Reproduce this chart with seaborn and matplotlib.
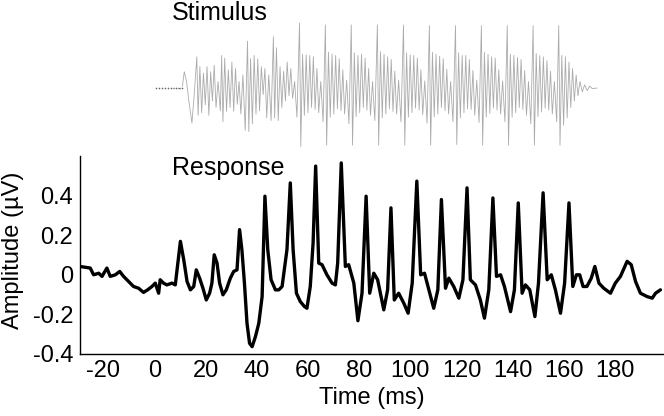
import matplotlib
matplotlib.use("Agg")
import matplotlib.pyplot as plt
import seaborn as sns

# Response (ms, uV)
resp_t = [-28.9, -25.0, -23.7, -21.7, -20.4, -18.5, -17.2, -15.2, -13.5, -12.0,
          -10.0, -8.1, -6.1, -4.2, -2.6, -0.9, 0.4, 1.7, 2.3, 3.6,
          4.9, 6.9, 8.2, 10.2, 11.5, 12.8, 14.1, 15.4, 16.4, 17.7,
          19.0, 20.3, 21.6, 22.5, 23.4, 24.5, 25.5, 26.8, 28.1, 29.7,
          31.0, 32.3, 33.3, 34.2, 35.2, 36.2, 37.2, 38.2, 39.5, 40.8,
          42.1, 43.2, 44.3, 45.6, 47.3, 48.6, 49.9, 51.8, 53.1, 54.2,
          55.5, 57.0, 58.6, 59.6, 60.9, 62.0, 63.0, 64.2, 65.5, 67.4,
          69.4, 70.7, 71.6, 73.0, 74.6, 75.9, 77.9, 79.5, 81.1, 82.7,
          84.1, 85.7, 87.2, 89.6, 91.1, 92.4, 93.7, 95.4, 97.4, 99.1,
          100.7, 102.5, 104.0, 105.5, 107.2, 109.1, 110.7, 112.1, 113.7, 115.0,
          116.9, 118.9, 120.5, 122.1, 123.4, 125.4, 127.3, 128.9, 130.6, 132.2,
          133.6, 135.2, 136.7, 139.1, 140.6, 142.1, 143.6, 144.9, 146.6, 148.6,
          150.0, 151.8, 153.4, 155.0, 156.6, 158.6, 160.2, 161.9, 163.4, 164.8,
          166.1, 167.4, 168.9, 170.6, 172.0, 173.6, 175.5, 178.1, 180.0, 182.0,
          184.6, 186.2, 187.9, 189.8, 192.4, 194.4, 195.7, 197.6]
resp_v = [0.042, 0.034, 0.0, 0.008, -0.008, 0.034, -0.008, 0.0, 0.017, -0.008,
          -0.034, -0.059, -0.068, -0.089, -0.076, -0.059, -0.042, -0.093, -0.025, -0.042,
          -0.051, -0.042, -0.051, 0.169, 0.076, -0.034, -0.076, -0.059, 0.025, -0.017,
          -0.068, -0.127, -0.093, -0.042, 0.101, 0.059, -0.042, -0.101, -0.076, -0.017,
          0.017, 0.025, 0.228, 0.127, -0.042, -0.245, -0.346, -0.363, -0.312, -0.245,
          -0.110, 0.397, 0.127, -0.025, -0.076, -0.076, -0.059, 0.127, 0.464, 0.127,
          -0.093, -0.135, -0.160, -0.169, -0.059, 0.160, 0.549, 0.059, 0.051, 0.0,
          -0.042, -0.051, 0.059, 0.565, 0.042, 0.051, -0.042, -0.232, -0.093, 0.397,
          -0.093, 0.008, -0.025, -0.177, -0.076, 0.338, -0.127, -0.093, -0.143, -0.194,
          -0.042, 0.473, 0.0, 0.008, -0.076, -0.169, -0.076, 0.380, -0.068, -0.017,
          -0.059, -0.118, -0.025, 0.439, -0.025, -0.051, -0.127, -0.219, -0.076, 0.388,
          -0.008, 0.0, -0.059, -0.186, -0.076, 0.363, -0.093, -0.051, -0.076, -0.211,
          -0.042, 0.414, -0.025, 0.0, -0.076, -0.194, -0.042, 0.363, -0.059, 0.0,
          0.0, -0.059, -0.059, -0.017, 0.042, -0.042, -0.068, -0.093, -0.042, -0.008,
          0.068, 0.051, -0.034, -0.093, -0.110, -0.118, -0.093, -0.076]

# Stimulus waveform (arbitrary units), read per pitch period
onset_t = [0.8, 2.0, 3.1, 4.3, 5.5, 6.6, 8.6, 10.9]
onset_v = [0, 0, 0, 0, 0, 0, 0, 0]
burst_t = [11.7, 12.6, 13.5, 14.7, 15.6]
burst_v = [0.25, 0.10, -0.20, -0.54, -0.10]
period_start = [16.6, 26.3, 36.4, 46.5, 56.7, 66.8, 76.9, 87.1, 97.3, 107.4,
                117.6, 127.7, 137.8, 147.9, 157.9]
period_offset = [0, 0.5, 1.2, 1.9, 2.6, 3.3, 4.0, 4.7, 5.4, 6.1, 6.8, 7.5, 8.3, 9.2]
period_v = [
    [0.48, -0.42, 0.33, -0.38, 0.23, -0.26, 0.33, -0.42, 0.25, -0.20, 0.35, -0.30, 0.10, -0.35],
    [0.50, -0.52, 0.46, -0.36, 0.28, -0.30, 0.40, -0.36, 0.30, -0.25, 0.10, -0.40, 0.20, -0.65],
    [0.72, -0.67, 0.45, -0.55, 0.50, -0.40, 0.45, -0.35, 0.33, -0.10, 0.30, -0.46, 0.20, -0.50],
    [0.79, -0.46, 0.62, -0.50, 0.33, -0.30, 0.26, -0.20, 0.40, -0.12, 0.30, -0.16, 0.10, -0.45],
    [1.00, -0.90, 0.52, -0.42, 0.51, -0.38, 0.50, -0.30, 0.48, -0.33, 0.30, -0.38, 0.10, -0.52],
    [0.97, -0.88, 0.55, -0.45, 0.52, -0.40, 0.50, -0.32, 0.45, -0.35, 0.28, -0.40, 0.12, -0.55],
    [0.97, -0.88, 0.54, -0.44, 0.50, -0.38, 0.52, -0.30, 0.46, -0.34, 0.30, -0.42, 0.10, -0.50],
    [0.97, -0.88, 0.56, -0.46, 0.52, -0.40, 0.48, -0.32, 0.44, -0.36, 0.26, -0.40, 0.12, -0.52],
    [0.97, -0.88, 0.54, -0.45, 0.51, -0.38, 0.50, -0.31, 0.46, -0.34, 0.28, -0.41, 0.11, -0.54],
    [0.96, -0.88, 0.55, -0.44, 0.52, -0.40, 0.49, -0.30, 0.45, -0.35, 0.29, -0.40, 0.10, -0.52],
    [0.96, -0.87, 0.54, -0.46, 0.50, -0.38, 0.50, -0.32, 0.44, -0.33, 0.27, -0.42, 0.12, -0.53],
    [0.96, -0.88, 0.55, -0.45, 0.52, -0.39, 0.48, -0.31, 0.46, -0.34, 0.28, -0.40, 0.11, -0.52],
    [0.96, -0.88, 0.52, -0.45, 0.50, -0.38, 0.47, -0.30, 0.44, -0.33, 0.27, -0.42, 0.10, -0.55],
    [0.96, -0.88, 0.53, -0.44, 0.50, -0.37, 0.48, -0.31, 0.42, -0.34, 0.26, -0.40, 0.10, -0.52],
    [0.96, -0.88, 0.50, -0.57, 0.48, -0.46, 0.40, -0.30, 0.30, -0.20, 0.20, -0.12, 0.10, -0.06],
]
tail_t = [168.0, 169.0, 170.0, 171.0, 172.9]
tail_v = [0.05, -0.04, 0.03, -0.01, 0.0]

stim_t = [onset_t[-1]] + burst_t
stim_v = [onset_v[-1]] + burst_v
for t0, vals in zip(period_start, period_v):
    for off, v in zip(period_offset, vals):
        stim_t.append(t0 + off)
        stim_v.append(v)
stim_t += tail_t
stim_v += tail_v

sns.set_theme(style="white")
plt.rcParams['font.family'] = ['Liberation Sans', 'DejaVu Sans']
plt.rcParams['text.color'] = 'black'

fig = plt.figure(figsize=(6.64, 4.16), dpi=100)
ax = fig.add_axes([80 / 664, 62 / 416, 584 / 664, 198 / 416])
ax_s = fig.add_axes([80 / 664, 256.5 / 416, 584 / 664, 143 / 416], sharex=ax)

# stimulus
sns.lineplot(x=stim_t, y=stim_v, ax=ax_s, color='#ababab', linewidth=0.6,
             sort=False, estimator=None)
sns.lineplot(x=onset_t, y=onset_v, ax=ax_s, color='#666666', linewidth=0.9,
             marker='.', markersize=4, sort=False, estimator=None)
ax_s.set_ylim(-1.1, 1.1)
ax_s.axis('off')

# response
sns.lineplot(x=resp_t, y=resp_v, ax=ax, color='black', linewidth=2.4,
             sort=False, estimator=None)
ax.set_xlim(-29, 199)
ax.set_ylim(-0.4, 0.6)
ax.set_xticks(range(-20, 181, 20))
ax.set_yticks([-0.4, -0.2, 0, 0.2, 0.4])
ax.set_yticklabels(['-0.4', '-0.2', '0', '0.2', '0.4'])
ax.set_xticklabels([str(v) for v in range(-20, 181, 20)])
for s in ['top', 'right']:
    ax.spines[s].set_visible(False)
for s in ['left', 'bottom']:
    ax.spines[s].set_color('black')
    ax.spines[s].set_linewidth(1.0)
ax.tick_params(direction='in', length=4.5, width=1, colors='black',
               labelsize=17, pad=5)
ax.tick_params(axis='x', pad=4)
ax.set_xlabel('Time (ms)', fontsize=17, color='black', va='center')
ax.set_ylabel('Amplitude (µV)', fontsize=17, color='black', va='center')
ax.xaxis.set_label_coords(0.5, -0.222)
ax.yaxis.set_label_coords(-0.115, 0.525)

fig.text(172 / 664, 1 - 175 / 416, 'Response', fontsize=18, va='baseline', color='black')
fig.text(172 / 664, 1 - 20 / 416, 'Stimulus', fontsize=18, va='baseline', color='black')

fig.savefig('out.png', dpi=100)
